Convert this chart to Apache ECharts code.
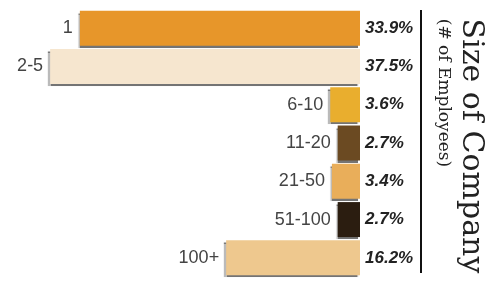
<!DOCTYPE html>
<html>
<head>
<meta charset="utf-8">
<title>Size of Company</title>
<script src="https://cdn.jsdelivr.net/npm/echarts@6/dist/echarts.min.js"></script>
<style>
  html, body { margin: 0; padding: 0; background: #fff; }
  #main { width: 500px; height: 291px; }
</style>
</head>
<body>
<div id="main"></div>
<script>
// categories top to bottom
var sizes = ['1', '2-5', '6-10', '11-20', '21-50', '51-100', '100+'];
var shares = [33.9, 37.5, 3.6, 2.7, 3.4, 2.7, 16.2];
var barColors = ['#E7962A', '#F6E6CF', '#E9AE2E', '#6B4A22', '#E9AE5A', '#2B1D10', '#EEC88E'];

var chart = echarts.init(document.getElementById('main'));

var barData = [];
for (var i = 0; i < shares.length; i++) {
    barData.push({ value: shares[i], itemStyle: { color: barColors[i] } });
}

var option = {
    animation: false,
    grid: { left: 46, right: 140, top: 9, bottom: 14 },
    xAxis: {
        type: 'value',
        inverse: true,
        min: 0,
        max: 38,
        show: false
    },
    yAxis: {
        type: 'category',
        data: sizes,
        inverse: true,
        position: 'right',
        axisLine: { show: false },
        axisTick: { show: false },
        splitLine: { show: false },
        axisLabel: {
            margin: 5,
            fontFamily: 'Liberation Sans',
            fontSize: 17,
            fontWeight: 'bold',
            fontStyle: 'italic',
            color: '#222',
            formatter: function (val, idx) {
                return shares[idx].toFixed(1) + '%';
            }
        }
    },
    series: [{
        type: 'bar',
        barWidth: 35,
        data: barData,
        itemStyle: {
            shadowColor: 'rgba(70,70,70,0.75)',
            shadowOffsetX: -2,
            shadowOffsetY: 2,
            shadowBlur: 1
        },
        label: {
            show: true,
            position: 'left',
            distance: 7,
            fontFamily: 'Liberation Sans',
            fontSize: 18,
            color: '#444',
            formatter: '{b}'
        }
    }],
    graphic: [
        {
            type: 'line',
            shape: { x1: 421, y1: 10, x2: 421, y2: 273 },
            style: { stroke: '#111', lineWidth: 2 }
        },
        {
            type: 'text',
            x: 471, y: 146,
            rotation: -Math.PI / 2,
            style: {
                text: 'Size of Company',
                font: '30px "DejaVu Serif"',
                fill: '#222',
                align: 'center',
                verticalAlign: 'middle'
            }
        },
        {
            type: 'text',
            x: 443, y: 93,
            rotation: -Math.PI / 2,
            style: {
                text: '(# of Employees)',
                font: '17px "DejaVu Serif"',
                fill: '#222',
                align: 'center',
                verticalAlign: 'middle'
            }
        }
    ]
};

chart.setOption(option);
window.onresize = chart.resize;
</script>
</body>
</html>
